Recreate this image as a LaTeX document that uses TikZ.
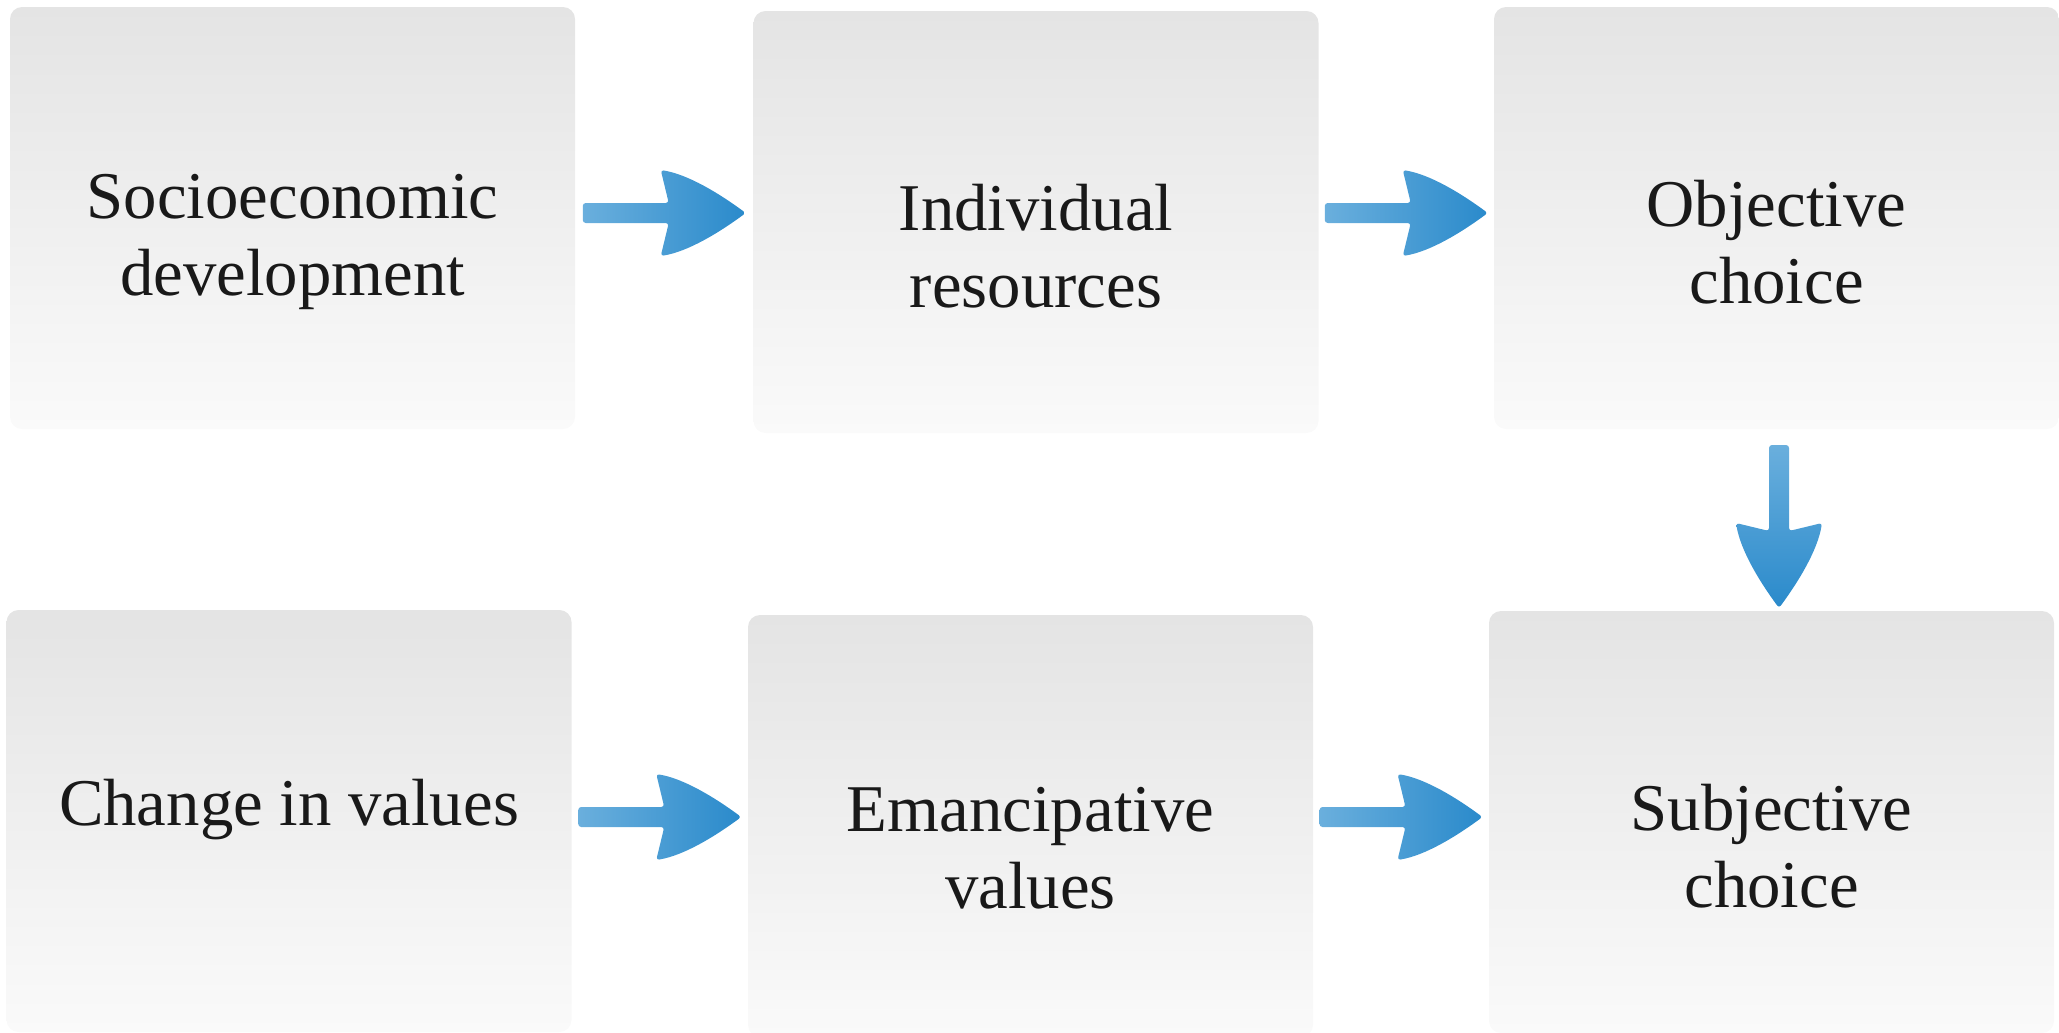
\documentclass[tikz,border=0pt]{standalone}
\usepackage{fontspec}
\setmainfont{Liberation Serif}
\usetikzlibrary{calc}

\definecolor{boxtop}{HTML}{E4E4E4}
\definecolor{boxbot}{HTML}{FAFAFA}
\definecolor{arrowlight}{HTML}{6AAFDD}
\definecolor{arrowdark}{HTML}{2A8ACB}

\tikzset{
  stage/.style={rounded corners=0.12cm, top color=boxtop, bottom color=boxbot,
    minimum width=5.65cm, minimum height=4.22cm},
  caption/.style={align=center, font=\fontsize{19}{22}\selectfont, text=black!90},
  pics/fatarrow/.style={code={
    \path[pic actions, rounded corners=0.03cm] (0.045,-0.1) -- (-0.035,-0.43)
      .. controls (0.24,-0.385) and (0.55,-0.195) .. (0.815,0)
      .. controls (0.55,0.195) and (0.24,0.385) .. (-0.035,0.43)
      -- (0.045,0.1) -- (-0.815,0.1) -- (-0.815,-0.1) -- cycle;
  }}
}

\begin{document}
\begin{tikzpicture}
    \useasboundingbox (0,0) rectangle (20.59,10.32);
    % Top row
    \node[stage] (socio) at (2.925,8.14) {};
    \node[stage] (resources) at (10.36,8.10) {};
    \node[stage] (objective) at (17.765,8.14) {};
    \node[caption] (socio-t) at ($(socio)+(0,-0.24)$) {Socioeconomic\\development};
    \node[caption] (resources-t) at ($(resources)+(0,-0.24)$) {Individual\\resources};
    \node[caption] (objective-t) at ($(objective)+(0,-0.24)$) {Objective\\choice};
    % Bottom row
    \node[stage] (change) at (2.89,2.11) {};
    \node[stage] (emancip) at (10.305,2.06) {};
    \node[stage] (subjective) at (17.715,2.10) {};
    \node[caption] (change-t) at ($(change)+(0,0.11)$) {Change in values};
    \node[caption] (emancip-t) at ($(emancip)+(0,-0.22)$) {Emancipative\\values};
    \node[caption] (subjective-t) at ($(subjective)+(0,-0.24)$) {Subjective\\choice};
    % Arrows
    \pic[left color=arrowlight, right color=arrowdark] at ($(socio.east)!0.5!(resources.west)+(0,0.07)$) {fatarrow};
    \pic[left color=arrowlight, right color=arrowdark] at ($(resources.east)!0.5!(objective.west)+(0,0.07)$) {fatarrow};
    \pic[rotate=-90, top color=arrowlight, bottom color=arrowdark] at ($(objective.south)!0.5!(subjective.north)+(0.05,-0.065)$) {fatarrow};
    \pic[left color=arrowlight, right color=arrowdark] at ($(change.east)!0.5!(emancip.west)+(0,0.065)$) {fatarrow};
    \pic[left color=arrowlight, right color=arrowdark] at ($(emancip.east)!0.5!(subjective.west)+(0,0.07)$) {fatarrow};
\end{tikzpicture}
\end{document}
